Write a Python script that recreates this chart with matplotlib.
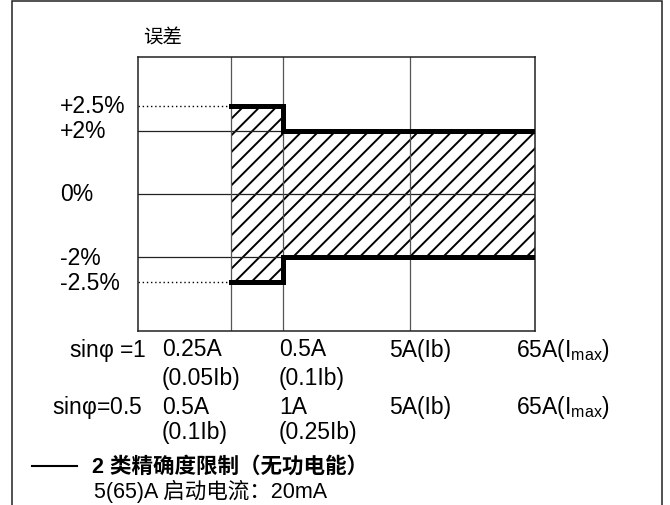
import numpy as np
import matplotlib.pyplot as plt
from matplotlib.lines import Line2D
from matplotlib.patches import Rectangle

plt.rcParams['font.family'] = ['Liberation Sans', 'Noto Sans CJK SC']
plt.rcParams['mathtext.fontset'] = 'custom'
plt.rcParams['mathtext.rm'] = 'Liberation Sans'
plt.rcParams['mathtext.it'] = 'Liberation Sans'
plt.rcParams['hatch.linewidth'] = 1.4

W, H = 670, 506
FS = 16.5

# current points (index along the schematic x axis)
x_idx = [1, 2, 3, 4]
upper = [2.5, 2, 2, 2]
lower = [-2.5, -2, -2, -2]
grid_y = [-2, 0, 2]
grid_x = [1, 2, 3]
y_vals = [2.5, 2, 0, -2, -2.5]
y_labels = ['+2.5%', '+2%', '0%', '-2%', '-2.5%']

row_names = [r'sin$\varphi$ =1', r'sin$\varphi$=0.5']
row1_main = ['0.25A', '0.5A', '5A(Ib)', r'65A(I$_{\mathrm{max}}$)']
row1_sub = ['(0.05Ib)', '(0.1Ib)', '', '']
row2_main = ['0.5A', '1A', '5A(Ib)', r'65A(I$_{\mathrm{max}}$)']
row2_sub = ['(0.1Ib)', '(0.25Ib)', '', '']

legend_title = '2 类精确度限制（无功电能）'
legend_note = '5(65)A 启动电流：20mA'


def fx(px):
    return px / W


def fy(py):
    return 1 - py / H


# schematic (non-linear) scales
col_px = [0, 93, 145, 272, 397]


def x_fwd(x):
    return np.interp(x, [0, 1, 2, 3, 4], col_px)


def x_inv(p):
    return np.interp(p, col_px, [0, 1, 2, 3, 4])


def y_fwd(y):
    y = np.asarray(y, float)
    a = np.abs(y)
    return np.sign(y) * np.where(a <= 2, a, 2 + (a - 2) * 1.59)


def y_inv(t):
    t = np.asarray(t, float)
    a = np.abs(t)
    return np.sign(t) * np.where(a <= 2, a, 2 + (a - 2) / 1.59)


fig = plt.figure(figsize=(6.7, 5.06), dpi=100)
ax = fig.add_axes([fx(138), fy(332), fx(535) - fx(138), fy(58) - fy(332)])
ax.set_xscale('function', functions=(x_fwd, x_inv))
ax.set_yscale('function', functions=(y_fwd, y_inv))
ax.set_xlim(0, 4)
ax.set_ylim(-3.477, 3.477)
ax.set_xticks([])
ax.set_yticks([])
ax.minorticks_off()
for s in ax.spines.values():
    s.set_linewidth(1.1)
    s.set_color('#222222')

ax.fill_between(x_idx, lower, upper, step='post', facecolor='none',
                edgecolor='black', hatch='//', linewidth=0, zorder=1)
for g in grid_y:
    ax.axhline(g, color='#222222', lw=0.9, zorder=2)
for g in grid_x:
    ax.axvline(g, color='#555555', lw=0.9, zorder=2)
for v in [upper[0], lower[0]]:
    ax.plot([0, x_idx[0]], [v, v], color='black', lw=1.0, ls=(0, (1, 2)), zorder=2)
ax.step(x_idx, upper, where='post', color='black', lw=3.6, zorder=3,
        solid_joinstyle='miter')
ax.step(x_idx, lower, where='post', color='black', lw=3.6, zorder=3,
        solid_joinstyle='miter')

# y labels
ytr = ax.get_yaxis_transform()
for v, lab in zip(y_vals, y_labels):
    ax.text((60 - 138) / 397, v, lab, transform=ytr, ha='left', va='center',
            fontsize=FS)

fig.text(fx(143), fy(38), '误差', ha='left', va='center', fontsize=14,
         family=['Noto Sans CJK SC'])

# column labels under the chart
col_x = [162, 279, 389, 516]
fig.text(fx(146), fy(350), row_names[0], ha='right', va='center', fontsize=FS)
fig.text(fx(142), fy(408), row_names[1], ha='right', va='center', fontsize=FS)
for cx, m1, s1, m2, s2 in zip(col_x, row1_main, row1_sub, row2_main, row2_sub):
    fig.text(fx(cx), fy(350), m1, ha='left', va='center', fontsize=FS)
    fig.text(fx(cx), fy(378), s1, ha='left', va='center', fontsize=FS)
    fig.text(fx(cx), fy(408), m2, ha='left', va='center', fontsize=FS)
    fig.text(fx(cx), fy(433), s2, ha='left', va='center', fontsize=FS)

# legend
fig.add_artist(Line2D([fx(32), fx(77)], [fy(467), fy(467)], color='black', lw=1.5))
fig.text(fx(92), fy(467), legend_title, ha='left', va='center', fontsize=15.5,
         fontweight='bold')
fig.text(fx(94), fy(491), legend_note, ha='left', va='center', fontsize=15.5)

# outer frame
fig.add_artist(Rectangle((fx(12), -0.05), fx(662) - fx(12), fy(2) + 0.05,
                         transform=fig.transFigure, fill=False,
                         edgecolor='#222222', lw=1.1))

fig.savefig('out.png', dpi=100)
